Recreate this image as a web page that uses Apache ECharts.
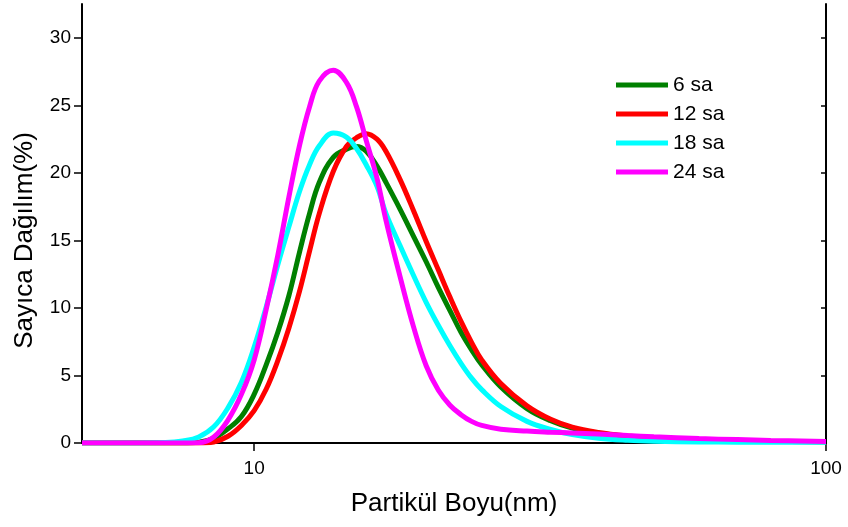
<!DOCTYPE html>
<html>
<head>
<meta charset="utf-8">
<script src="https://cdn.jsdelivr.net/npm/echarts@6/dist/echarts.min.js"></script>
<style>
  html, body { margin: 0; padding: 0; background: #fff; }
  #chart { width: 848px; height: 527px; }
</style>
</head>
<body>
<div id="chart"></div>
<script>
// değerler (x: partikül boyu nm, y: sayıca dağılım %)
const names = ['6 sa', '12 sa', '18 sa', '24 sa']
const colors = ['#008000', '#ff0000', '#00ffff', '#ff00ff']

const sizes = [5, 6, 7, 7.5, 8, 8.5, 9, 9.5, 10, 10.5, 11, 11.5, 12, 12.5, 13, 13.75, 14.5, 15.1, 15.7, 16.4, 17, 18, 19, 20, 21, 22, 23, 24, 25, 27, 30, 33, 36, 40, 45, 50, 60, 70, 80, 100]

const y6 = [0, 0, 0, 0, 0.05, 0.35, 1.05, 1.96, 3.6, 5.8, 8.2, 10.9, 14.1, 17.0, 19.3, 21.15, 21.75, 21.95, 21.6, 20.5, 19.3, 17.3, 15.3, 13.4, 11.5, 9.8, 8.2, 6.9, 5.8, 4.15, 2.55, 1.65, 1.1, 0.73, 0.49, 0.37, 0.24, 0.17, 0.13, 0.1]
const y12 = [0, 0, 0, 0, 0, 0.08, 0.5, 1.3, 2.4, 4.0, 6.1, 8.5, 11.2, 14.2, 17.0, 20.1, 21.95, 22.6, 22.9, 22.5, 21.6, 19.5, 17.2, 14.9, 12.8, 10.8, 9.0, 7.45, 6.15, 4.4, 2.75, 1.75, 1.17, 0.78, 0.52, 0.38, 0.24, 0.17, 0.13, 0.1]
const y18 = [0, 0, 0.03, 0.15, 0.45, 1.2, 2.6, 4.5, 7.1, 10.1, 13.2, 16.0, 18.6, 20.6, 22.0, 22.95, 22.65, 21.8, 20.6, 19.0, 17.0, 14.6, 12.4, 10.4, 8.7, 7.2, 5.9, 4.8, 3.95, 2.7, 1.6, 1.0, 0.62, 0.35, 0.2, 0.13, 0.08, 0.06, 0.05, 0.05]
const y24 = [0, 0, 0, 0, 0.02, 0.45, 1.7, 3.6, 6.15, 9.9, 13.9, 18.2, 22.0, 24.9, 26.8, 27.6, 26.7, 24.9, 22.4, 19.6, 16.5, 12.3, 8.6, 5.7, 3.9, 2.8, 2.1, 1.6, 1.3, 1.02, 0.88, 0.8, 0.74, 0.66, 0.55, 0.46, 0.33, 0.25, 0.19, 0.12]

const xTicks = [10, 100]
const yTicks = [0, 5, 10, 15, 20, 25, 30]

const seriesY = [y6, y12, y18, y24]

const font = "'Liberation Sans', Arial, sans-serif"
const chart = echarts.init(document.getElementById('chart'))

chart.setOption({
  animation: false,
  backgroundColor: '#fff',
  color: colors,
  textStyle: { fontFamily: font },
  grid: {
    left: 82,
    right: 22,
    top: 4,
    bottom: 84,
    containLabel: false,
    outerBoundsMode: 'none'
  },
  legend: {
    orient: 'vertical',
    left: 616,
    top: 74,
    padding: 0,
    itemWidth: 52,
    itemHeight: 5,
    itemGap: 7,
    icon: 'rect',
    data: names.map((n, i) => ({ name: n, itemStyle: { color: colors[i] } })),
    textStyle: { fontSize: 21, lineHeight: 22, color: '#000', fontFamily: font }
  },
  xAxis: [
    {
      type: 'log',
      logBase: 10,
      min: 5,
      max: 100,
      name: 'Partikül Boyu(nm)',
      nameLocation: 'middle',
      nameGap: 48,
      nameTextStyle: { fontSize: 26, color: '#000', fontFamily: font },
      axisLine: { lineStyle: { color: '#000', width: 2 } },
      axisTick: { customValues: xTicks, length: 8, lineStyle: { color: '#000', width: 1.5 } },
      minorTick: { show: false },
      axisLabel: { customValues: xTicks, margin: 16, fontSize: 19, color: '#000', fontFamily: font },
      splitLine: { show: false }
    },
    {
      type: 'log',
      logBase: 10,
      min: 5,
      max: 100,
      position: 'top',
      axisLine: { lineStyle: { color: '#000', width: 2 } },
      axisTick: { customValues: xTicks, inside: true, length: 5, lineStyle: { color: '#000', width: 1.5 } },
      axisLabel: { show: false },
      splitLine: { show: false }
    }
  ],
  yAxis: [
    {
      type: 'value',
      min: 0,
      max: 32.5,
      interval: 5,
      name: 'Sayıca Dağılım(%)',
      nameLocation: 'middle',
      nameGap: 44,
      nameTextStyle: { fontSize: 26, color: '#000', fontFamily: font, padding: [0, 34, 0, 0] },
      axisLine: { show: true, lineStyle: { color: '#000', width: 2 } },
      axisTick: { show: true, customValues: yTicks, length: 8, lineStyle: { color: '#000', width: 1.5 } },
      axisLabel: { customValues: yTicks, margin: 11, fontSize: 19, color: '#000', fontFamily: font },
      splitLine: { show: false }
    },
    {
      type: 'value',
      min: 0,
      max: 32.5,
      interval: 5,
      position: 'right',
      axisLine: { show: true, lineStyle: { color: '#000', width: 2 } },
      axisTick: { show: true, customValues: yTicks, inside: true, length: 5, lineStyle: { color: '#000', width: 1.5 } },
      axisLabel: { show: false },
      splitLine: { show: false }
    }
  ],
  series: names.map((n, i) => ({
    name: n,
    type: 'line',
    xAxisIndex: 0,
    yAxisIndex: 0,
    smooth: 0.4,
    symbol: 'none',
    lineStyle: { width: 5, color: colors[i] },
    data: sizes.map((x, j) => [x, seriesY[i][j]])
  }))
})
</script>
</body>
</html>
